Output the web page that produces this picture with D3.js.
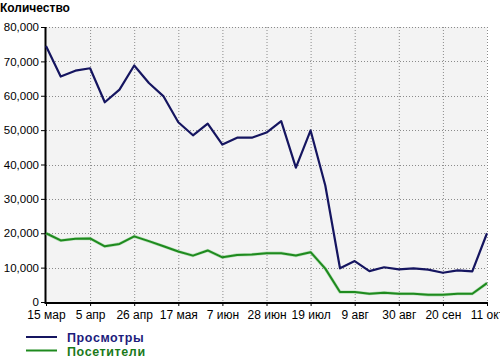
<!DOCTYPE html>
<html><head><meta charset="utf-8">
<script src="https://cdn.jsdelivr.net/npm/d3@7"></script>
<style>
html,body{margin:0;padding:0;background:#fff;overflow:hidden}
svg{display:block;font-family:"Liberation Sans",Arial,sans-serif}
</style></head>
<body>
<svg id="c" width="500" height="360"></svg>
<script>
const weekIndex = d3.range(31);
const views = [74500,65600,67300,68000,58100,61800,68800,63700,59800,52300,48500,51900,45800,47800,47800,49300,52600,39100,49900,33900,9800,11900,9000,10100,9500,9800,9400,8500,9200,8900,20000];
const visitors = [20000,17900,18400,18500,16200,16900,19100,17700,16200,14700,13500,15000,13000,13700,13800,14200,14200,13500,14500,9700,2900,2900,2400,2700,2400,2400,2100,2100,2400,2400,5500];
const tickLabels = ["15 мар","5 апр","26 апр","17 мая","7 июн","28 июн","19 июл","9 авг","30 авг","20 сен","11 окт"];
const yTicks = [0,10000,20000,30000,40000,50000,60000,70000,80000];
const seriesNames = ["Просмотры","Посетители"];
const seriesColors = ["#151560","#1e8a1e"];
const legendTextColors = ["#1c1c7c","#1a7a1a"];

const svg = d3.select("#c");
const L=46,R=487,T=27,B=302;
const x = d3.scaleLinear().domain([0,30]).range([L,R]);
const y = d3.scaleLinear().domain([0,80000]).range([B,T]);

svg.append("rect").attr("x",L).attr("y",T).attr("width",R-L).attr("height",B-T).attr("fill","#f3f3f3");

// grid
const gx = svg.append("g");
tickLabels.forEach((t,i)=>{
  if(i===0) return;
  gx.append("line").attr("x1",x(i*3)+0.5).attr("x2",x(i*3)+0.5).attr("y1",T).attr("y2",B)
    .attr("stroke","#8a8a8a").attr("stroke-dasharray","1,2");
});
yTicks.forEach(v=>{
  if(v===0) return;
  gx.append("line").attr("x1",L).attr("x2",R).attr("y1",Math.round(y(v))+0.5).attr("y2",Math.round(y(v))+0.5)
    .attr("stroke","#8a8a8a").attr("stroke-dasharray","1,2");
});

// y axis
const fmt = d3.format(",");
const yAxis = d3.axisLeft(y).tickValues(yTicks).tickSize(5).tickPadding(2).tickFormat(d=>fmt(d));
const ya = svg.append("g").attr("transform",`translate(${L},0)`).call(yAxis);
ya.select(".domain").remove();
ya.selectAll("text").attr("font-size","11.5px").attr("fill","#000").attr("font-family","Liberation Sans, Arial, sans-serif");
ya.selectAll("line").attr("stroke","#000");
svg.append("line").attr("x1",L-0.5).attr("x2",L-0.5).attr("y1",T).attr("y2",B+1).attr("stroke","#000").attr("stroke-width",2);

// x axis
const xAxis = d3.axisBottom(x).tickValues(tickLabels.map((d,i)=>i*3)).tickSize(4).tickPadding(4)
  .tickFormat((d,i)=>tickLabels[i]);
const xa = svg.append("g").attr("transform",`translate(0,${B})`).call(xAxis);
xa.select(".domain").remove();
xa.selectAll("text").attr("font-size","12px").attr("fill","#000").attr("font-family","Liberation Sans, Arial, sans-serif");
xa.selectAll("line").attr("stroke","#000");
svg.append("line").attr("x1",L-1.5).attr("x2",R+1).attr("y1",B+1).attr("y2",B+1).attr("stroke","#000").attr("stroke-width",2);

// lines
const line = d3.line().x((d,i)=>x(weekIndex[i])).y(d=>y(d));
svg.append("path").datum(visitors).attr("d",line).attr("fill","none").attr("stroke","#8fd08f").attr("stroke-width",3.2).attr("stroke-linejoin","round").attr("opacity",0.6);
svg.append("path").datum(visitors).attr("d",line).attr("fill","none").attr("stroke",seriesColors[1]).attr("stroke-width",2).attr("stroke-linejoin","round");
svg.append("path").datum(views).attr("d",line).attr("fill","none").attr("stroke",seriesColors[0]).attr("stroke-width",2.2).attr("stroke-linejoin","round");

// title
svg.append("text").attr("x",0).attr("y",12).attr("font-size","12px").attr("font-weight","bold").attr("fill","#000").text("Количество");

// legend
seriesNames.forEach((n,i)=>{
  const yy = 337 + i*13.5;
  svg.append("line").attr("x1",26).attr("x2",57).attr("y1",yy).attr("y2",yy).attr("stroke",seriesColors[i]).attr("stroke-width",2);
  svg.append("text").attr("x",67).attr("y",yy+5).attr("font-size","12.5px").attr("font-weight","bold")
    .attr("letter-spacing","0.6px").attr("fill",legendTextColors[i]).text(n);
});
</script>
</body></html>
